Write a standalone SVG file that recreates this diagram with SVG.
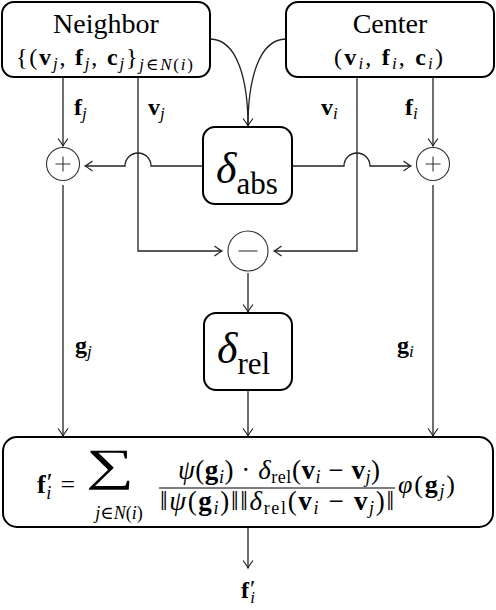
<svg xmlns="http://www.w3.org/2000/svg" width="496" height="610" viewBox="0 0 496 610" font-family="'Liberation Serif', 'DejaVu Serif', serif">
<style>
.box{fill:#fff;stroke:#000;stroke-width:2}
.op{fill:#fff;stroke:#333;stroke-width:1.1}
.sign{stroke:#333;stroke-width:1.1}
.con{fill:none;stroke:#222;stroke-width:1.3}
text{font-family:'Liberation Serif','DejaVu Serif',serif;fill:#000}
.t{font-size:28px}
.m{font-size:24px}
.f{font-size:26px}
.fr{font-size:27px}
.b{font-weight:bold;font-style:normal}
.i{font-style:italic}
.s{font-size:17px}
.fs{font-size:18px}
.big{font-size:44px}
.sub{font-size:31px}
</style>
<defs>
<marker id="ar" markerUnits="userSpaceOnUse" markerWidth="12" markerHeight="12" viewBox="-8 -6 10 12" refX="0" refY="0" orient="auto">
<path d="M-7.5,-5 Q-2.5,-1.2 0,0 Q-2.5,1.2 -7.5,5" fill="none" stroke="#222" stroke-width="1.2"/>
</marker>
</defs>

<g id="connectors">
<path class="con" d="M63,77 V146" marker-end="url(#ar)"/>
<path class="con" d="M433,77 V146" marker-end="url(#ar)"/>
<path class="con" d="M138,77 V251 H222" marker-end="url(#ar)"/>
<path class="con" d="M357,77 V251 H274" marker-end="url(#ar)"/>
<path class="con" d="M203,166 H151 A13,13 0 0 0 125,166 H85" marker-end="url(#ar)"/>
<path class="con" d="M292,166 H344 A13,13 0 0 1 370,166 H411" marker-end="url(#ar)"/>
<path class="con" d="M210,39 C238,39 248,82 248,126" marker-end="url(#ar)"/>
<path class="con" d="M286,39 C258,39 248,82 248,126"/>
<path class="con" d="M63,185 V436" marker-end="url(#ar)"/>
<path class="con" d="M433,185 V436" marker-end="url(#ar)"/>
<path class="con" d="M248,273 V312" marker-end="url(#ar)"/>
<path class="con" d="M248,390 V436" marker-end="url(#ar)"/>
<path class="con" d="M248,527 V568" marker-end="url(#ar)"/>
</g>

<g id="neighbor">
<rect class="box" x="2" y="2" width="208" height="75" rx="12"/>
<text class="t" x="106" y="33" text-anchor="middle">Neighbor</text>
<text class="m" x="16" y="65" textLength="177">{(<tspan class="b">v</tspan><tspan class="i s" dy="4">j</tspan><tspan dy="-4">, </tspan><tspan class="b">f</tspan><tspan class="i s" dy="4">j</tspan><tspan dy="-4">, </tspan><tspan class="b">c</tspan><tspan class="i s" dy="4">j</tspan><tspan dy="-4">}</tspan><tspan class="i s" dy="5">j</tspan><tspan class="s">∈</tspan><tspan class="i s">N</tspan><tspan class="s">(</tspan><tspan class="i s">i</tspan><tspan class="s">)</tspan></text>
</g>

<g id="center">
<rect class="box" x="286" y="2" width="208" height="75" rx="12"/>
<text class="t" x="390" y="33" text-anchor="middle">Center</text>
<text class="m" x="334" y="65" textLength="109">(<tspan class="b">v</tspan><tspan class="i s" dy="4">i</tspan><tspan dy="-4">, </tspan><tspan class="b">f</tspan><tspan class="i s" dy="4">i</tspan><tspan dy="-4">, </tspan><tspan class="b">c</tspan><tspan class="i s" dy="4">i</tspan><tspan dy="-4">)</tspan></text>
</g>

<g id="labels">
<text class="m" x="74" y="115"><tspan class="b">f</tspan><tspan class="i s" dy="4">j</tspan></text>
<text class="m" x="148" y="115"><tspan class="b">v</tspan><tspan class="i s" dy="4">j</tspan></text>
<text class="m" x="321" y="115"><tspan class="b">v</tspan><tspan class="i s" dy="4">i</tspan></text>
<text class="m" x="405" y="115"><tspan class="b">f</tspan><tspan class="i s" dy="4">i</tspan></text>
<text class="m" x="75" y="353"><tspan class="b">g</tspan><tspan class="i s" dy="4">j</tspan></text>
<text class="m" x="397" y="353"><tspan class="b">g</tspan><tspan class="i s" dy="4">i</tspan></text>
</g>

<g id="plus-left">
<circle class="op" cx="63" cy="164" r="16.5"/>
<path class="sign" d="M55.5,164 H70.5 M63,156.5 V171.5"/>
</g>
<g id="plus-right">
<circle class="op" cx="433" cy="164" r="16.5"/>
<path class="sign" d="M425.5,164 H440.5 M433,156.5 V171.5"/>
</g>
<g id="minus">
<circle class="op" cx="248" cy="251" r="20"/>
<path class="sign" d="M238.5,251 H257.5"/>
</g>

<g id="delta-abs">
<rect class="box" x="203" y="127" width="89" height="77" rx="12"/>
<text x="216" y="183"><tspan class="i big">δ</tspan><tspan class="sub" dy="11">abs</tspan></text>
</g>

<g id="delta-rel">
<rect class="box" x="204" y="313" width="88" height="77" rx="12"/>
<text x="217" y="363"><tspan class="i big">δ</tspan><tspan class="sub" dy="11">rel</tspan></text>
</g>

<g id="formula">
<rect class="box" x="3" y="437" width="490" height="90" rx="14"/>
<text class="f" x="37" y="493"><tspan class="b">f</tspan><tspan dx="1" dy="-2">′</tspan><tspan class="i fs" dx="-6" dy="8">i</tspan><tspan dx="9" dy="-6">=</tspan></text>
<text transform="translate(110,480) scale(1.5,1)" x="0" y="0" text-anchor="middle" style="font-size:45px">∑</text>
<text class="fs" x="119" y="519" text-anchor="middle"><tspan class="i">j</tspan>∈<tspan class="i">N</tspan>(<tspan class="i">i</tspan>)</text>
<text class="fr" x="178" y="479" textLength="202"><tspan class="i">ψ</tspan>(<tspan class="b">g</tspan><tspan class="i fs" dy="4">i</tspan><tspan dy="-4">) · </tspan><tspan class="i">δ</tspan><tspan class="fs" dy="4">rel</tspan><tspan dy="-4">(</tspan><tspan class="b">v</tspan><tspan class="i fs" dy="4">i</tspan><tspan dy="-4"> − </tspan><tspan class="b">v</tspan><tspan class="i fs" dy="4">j</tspan><tspan dy="-4">)</tspan></text>
<line x1="159" y1="488" x2="395" y2="488" stroke="#000" stroke-width="1.2"/>
<text class="fr" x="160" y="510" textLength="234">‖<tspan class="i">ψ</tspan>(<tspan class="b">g</tspan><tspan class="i fs" dy="4">i</tspan><tspan dy="-4">)‖‖</tspan><tspan class="i">δ</tspan><tspan class="fs" dy="4">rel</tspan><tspan dy="-4">(</tspan><tspan class="b">v</tspan><tspan class="i fs" dy="4">i</tspan><tspan dy="-4"> − </tspan><tspan class="b">v</tspan><tspan class="i fs" dy="4">j</tspan><tspan dy="-4">)‖</tspan></text>
<text class="f" x="398" y="493" textLength="57"><tspan class="i">φ</tspan>(<tspan class="b">g</tspan><tspan class="i fs" dy="4">j</tspan><tspan dy="-4">)</tspan></text>
</g>

<g id="output">
<text class="m" x="241" y="598"><tspan class="b">f</tspan><tspan dx="1" dy="-2">′</tspan><tspan class="i s" dx="-5" dy="7">i</tspan></text>
</g>
</svg>
